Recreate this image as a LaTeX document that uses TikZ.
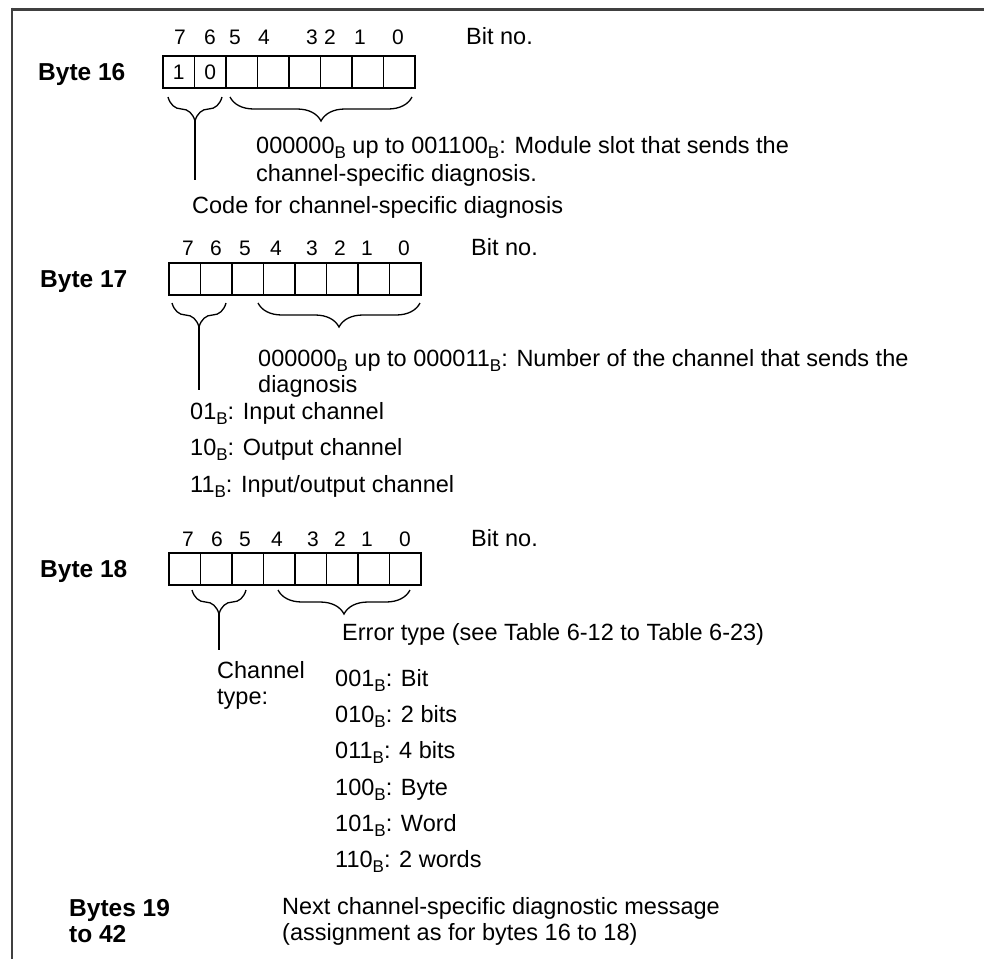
\documentclass[tikz,border=0pt]{standalone}
\usepackage{fontspec}
\setmainfont{Liberation Sans}
\usepackage{tikz}
\usetikzlibrary{decorations.pathreplacing,positioning}

\newcommand{\subB}{\smash{\raisebox{-5pt}{\fontsize{17}{17}\selectfont B}}}

\begin{document}
\begin{tikzpicture}[
    x=1pt, y=-1pt,
    cell/.style={draw, line width=1.6pt, minimum width=31.5pt, minimum height=32pt, inner sep=0pt, outer sep=0pt, font=\fontsize{21}{21}\selectfont},
    bitno/.style={anchor=base, inner sep=0pt, font=\fontsize{21}{21}\selectfont},
    lbl/.style={anchor=base west, inner sep=0pt, font=\fontsize{24.5}{28}\selectfont\bfseries},
    txt/.style={anchor=base west, inner sep=0pt, font=\fontsize{23.5}{28}\selectfont},
    brc/.style={decorate, decoration={brace, amplitude=24pt}, line width=1.3pt},
    stem/.style={line width=1.3pt},
    frame/.style={draw=black!75, line width=2pt}
]
\useasboundingbox (0,0) rectangle (984,959);

% frame
\draw[frame, line width=3pt] (984,9) -- (12,9);
\draw[frame] (12,7.5) -- (12,959);

% byte 16
\node[lbl] (byte16) at (38,80) {Byte 16};
\node[cell] (b16c7) at (178.75,72) {1};
\node[cell, right=0pt of b16c7] (b16c6) {0};
\foreach \b [count=\k from 2] in {5,...,0}
    \node[cell] (b16c\b) at (178.75+31.5*\k,72) {};
\foreach \d/\x in {7/180,6/210,5/235,4/264,3/312,2/330,1/360,0/398}
    \node[bitno] (n16\d) at (\x,44.5) {\d};
\node[txt] (bitno16) at (466,44.5) {Bit no.};
\draw[brc] (222,97) -- (168,97);
\draw[brc] (412,97) -- (230,97);
\coordinate (tip16) at (195,121);
\draw[stem] (tip16) -- (195,180);
\node[txt] (slot16a) at (256,153) {000000\subB{} up to 001100\subB: Module slot that sends the};
\node[txt] (slot16b) at (256,181) {channel-specific diagnosis.};
\node[txt] (code16) at (192,213) {Code for channel-specific diagnosis};

% byte 17
\node[lbl] (byte17) at (40,287) {Byte 17};
\foreach \b [count=\k from 0] in {7,...,0}
    \node[cell] (b17c\b) at (184.75+31.5*\k,279) {};
\foreach \d/\x in {7/188,6/216,5/245,4/276,3/312,2/340,1/367,0/404}
    \node[bitno] (n17\d) at (\x,255) {\d};
\node[txt] (bitno17) at (471,255) {Bit no.};
\draw[brc] (226,303) -- (172,303);
\draw[brc] (420,303) -- (258,303);
\coordinate (tip17) at (199,327);
\draw[stem] (tip17) -- (199,390);
\node[txt] (num17a) at (258,366) {000000\subB{} up to 000011\subB: Number of the channel that sends the};
\node[txt] (num17b) at (258,392) {diagnosis};
\node[txt] (in17) at (190,419) {01\subB: Input channel};
\node[txt] (out17) at (190,455) {10\subB: Output channel};
\node[txt] (io17) at (190,492) {11\subB: Input/output channel};

% byte 18
\node[lbl] (byte18) at (40,577) {Byte 18};
\foreach \b [count=\k from 0] in {7,...,0}
    \node[cell] (b18c\b) at (184.75+31.5*\k,569) {};
\foreach \d/\x in {7/188,6/217,5/245,4/277,3/313,2/340,1/367,0/405}
    \node[bitno] (n18\d) at (\x,546) {\d};
\node[txt] (bitno18) at (471,546) {Bit no.};
\draw[brc] (246,590) -- (192,590);
\draw[brc] (410,590) -- (278,590);
\coordinate (tip18) at (219,614);
\draw[stem] (tip18) -- (219,650);
\node[txt] (err18) at (342,640) {Error type (see Table 6-12 to Table 6-23)};
\node[txt] (chan18a) at (217,678) {Channel};
\node[txt] (chan18b) at (217,704) {type:};
\node[txt] (w1) at (335,686) {001\subB: Bit};
\node[txt] (w2) at (335,722) {010\subB: 2 bits};
\node[txt] (w3) at (335,758) {011\subB: 4 bits};
\node[txt] (w4) at (335,795) {100\subB: Byte};
\node[txt] (w5) at (335,831) {101\subB: Word};
\node[txt] (w6) at (335,867) {110\subB: 2 words};

% bytes 19 to 42
\node[lbl] (byte19a) at (69,916) {Bytes 19};
\node[lbl] (byte19b) at (69,942) {to 42};
\node[txt] (next19a) at (282,914) {Next channel-specific diagnostic message};
\node[txt] (next19b) at (282,940) {(assignment as for bytes 16 to 18)};
\end{tikzpicture}
\end{document}
